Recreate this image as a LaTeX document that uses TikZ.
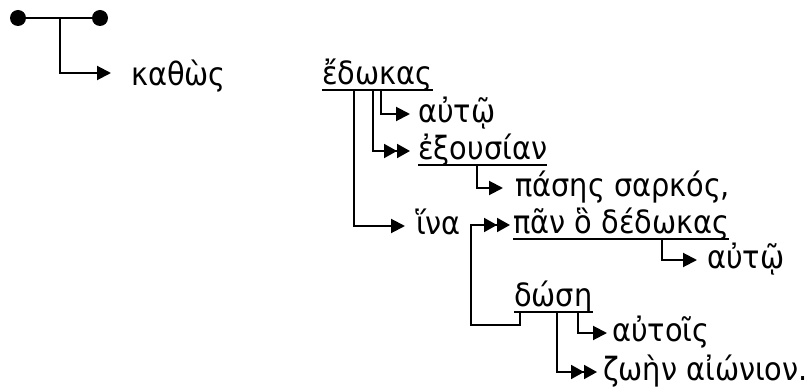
\documentclass[tikz,border=0pt]{standalone}
\usepackage{fontspec}
\setmainfont{DejaVu Sans Condensed}
\usetikzlibrary{arrows.meta}

\tikzset{
  word/.style={anchor=west, inner sep=0pt, text height=22.5pt, text depth=5pt,
    font=\fontsize{32}{36}\selectfont},
  dot/.style={circle, fill, inner sep=0pt, minimum size=16pt},
  line/.style={line width=2pt},
  uline/.style={line width=2.8pt},
  conn/.style={line width=2pt, -{Triangle[length=14pt,width=14pt]}},
  conntwo/.style={line width=2pt, -{Triangle[length=13pt,width=14pt]Triangle[length=13pt,width=14pt]}},
}

\begin{document}
\begin{tikzpicture}[x=1pt, y=-1pt]
    \useasboundingbox (0,0) rectangle (810,387);

    \node[dot] (d1) at (18,18) {};
    \node[dot] (d2) at (100,18) {};
    \draw[line] (d1) -- (d2);
    \coordinate (root) at (60,18);

    \node[word] (kathos) at (131,77) {καθὼς};
    \node[word] (edokas) at (322,76) {ἔδωκας};
    \node[word] (autw) at (418,114) {αὐτῷ};
    \node[word] (exousian) at (418,151) {ἐξουσίαν};
    \node[word] (pasis) at (515,188) {πάσης σαρκός,};
    \node[word] (hina) at (416,226) {ἵνα};
    \node[word] (pan) at (513,225) {πᾶν ὃ δέδωκας};
    \node[word] (autwb) at (707,260) {αὐτῷ};
    \node[word] (dosi) at (514,298) {δώση};
    \node[word] (autois) at (612,333) {αὐτοῖς};
    \node[word] (zoin) at (603,372) {ζωὴν αἰώνιον.};

    % underlines
    \draw[uline] (edokas.south west) -- (edokas.south east);
    \draw[uline] (exousian.south west) -- (exousian.south east);
    \draw[uline] (pan.south west) -- (pan.south east);
    \draw[uline] (dosi.south west) -- (dosi.south east);

    \draw[conn, shorten >=20pt] (root) |- ([yshift=4pt]kathos.west);
    \draw[conn, shorten >=8pt] ([xshift=59pt]edokas.south west) |- (autw.west);
    \draw[conntwo, shorten >=8pt] ([xshift=51pt]edokas.south west) |- (exousian.west);
    \draw[conn, shorten >=11pt] ([xshift=32pt]edokas.south west) |- (hina.west);
    \draw[conn, shorten >=12pt] ([xshift=59pt]exousian.south west) |- (pasis.west);
    \draw[conn, shorten >=10pt] ([xshift=149pt]pan.south west) |- (autwb.west);
    \draw[conntwo, shorten >=3pt] ([xshift=6pt]dosi.south west) |- ++(0,13) -| ([xshift=-42pt]pan.west) -- (pan.west);
    \draw[conn, shorten >=5pt] ([xshift=64pt]dosi.south west) |- (autois.west);
    \draw[conntwo, shorten >=6pt] ([xshift=43pt]dosi.south west) |- (zoin.west);
\end{tikzpicture}
\end{document}
